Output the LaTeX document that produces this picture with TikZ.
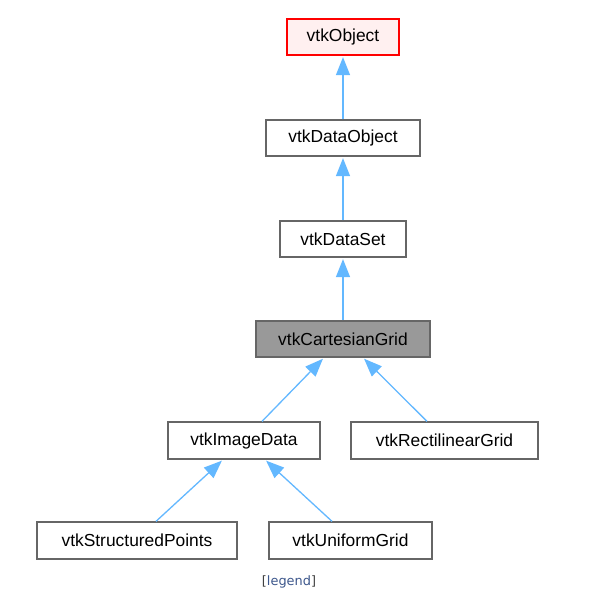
\documentclass[tikz,border=0pt]{standalone}
\usepackage{fontspec}
\setmainfont{Liberation Sans}
\newfontfamily\legendfont{DejaVu Sans}
\usetikzlibrary{arrows.meta}
\definecolor{edgeblue}{HTML}{63B8FF}
\definecolor{bordergray}{HTML}{666666}
\definecolor{legendblue}{HTML}{3D578C}
\tikzset{
  cls/.style={draw=bordergray, line width=1.3pt, fill=white, minimum height=36pt, inner sep=0pt, font=\fontsize{17.4}{20}\selectfont},
  edge/.style={draw=edgeblue, line width=1.3pt, shorten >=1.5pt, -{Triangle[length=18pt,width=14pt]}},
}
\begin{document}
\begin{tikzpicture}[x=1pt,y=-1pt]
\useasboundingbox[fill=white] (0,0) rectangle (589,608);
\node[cls, draw=red, fill={rgb,255:red,255;green,240;blue,240}, minimum width=112pt] (obj) at (343,37) {vtkObject};
\node[cls, minimum width=154pt] (dobj) at (343,138) {vtkDataObject};
\node[cls, minimum width=126pt] (dset) at (343,239) {vtkDataSet};
\node[cls, fill={rgb,255:red,153;green,153;blue,153}, minimum width=174pt] (cart) at (343,339) {vtkCartesianGrid};
\node[cls, minimum width=152pt, minimum height=37pt] (img) at (244,440.5) {vtkImageData};
\node[cls, minimum width=187pt, minimum height=37pt] (rect) at (444.5,440.5) {vtkRectilinearGrid};
\node[cls, minimum width=200pt, minimum height=37pt] (sp) at (137,540.5) {vtkStructuredPoints};
\node[cls, minimum width=163pt, minimum height=37pt] (ug) at (350.5,540.5) {vtkUniformGrid};
\node[font=\legendfont\fontsize{12.9}{15}\selectfont, text=legendblue] (leg) at (289,582) {\textcolor{black!75}{[}legend\textcolor{black!75}{]}};
\draw[edge] (dobj.north) -- (obj.south);
\draw[edge] (dset.north) -- (dobj.south);
\draw[edge] (cart.north) -- (dset.south);
\draw[edge] ([xshift=18pt]img.north) -- ([xshift=-19pt]cart.south);
\draw[edge] ([xshift=-17.5pt]rect.north) -- ([xshift=20pt]cart.south);
\draw[edge] ([xshift=19pt]sp.north) -- ([xshift=-21pt]img.south);
\draw[edge] ([xshift=-18.5pt]ug.north) -- ([xshift=21pt]img.south);
\end{tikzpicture}
\end{document}
